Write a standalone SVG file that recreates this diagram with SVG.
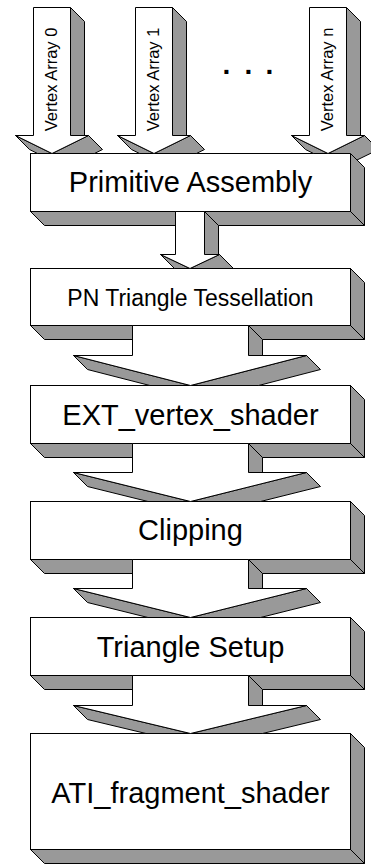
<svg xmlns="http://www.w3.org/2000/svg" width="371" height="865" viewBox="0 0 371 865">
<style>
.w{fill:#fff;stroke:#000;stroke-width:1;stroke-linejoin:miter}
.g{fill:#999;stroke:#000;stroke-width:1;stroke-linejoin:miter}
.t{font-family:"Liberation Sans",Arial,sans-serif;font-size:29px;text-anchor:middle;fill:#000}
.s{font-size:23px}
.v{font-family:"Liberation Sans",Arial,sans-serif;font-size:16.5px;text-anchor:middle;fill:#000}
</style>
<rect width="371" height="865" fill="#fff"/>
<g transform="translate(0.5,0.5)">
<g id="box1">
<polygon class="g" points="350,153 364,167 364,225 350,211"/>
<polygon class="g" points="30,211 44,225 364,225 350,211"/>
<rect class="w" x="30" y="153" width="320" height="58"/>
<text class="t" x="190" y="191">Primitive Assembly</text>
</g>
<g id="box2">
<polygon class="g" points="350,268 364,282 364,339 350,325"/>
<polygon class="g" points="30,325 44,339 364,339 350,325"/>
<rect class="w" x="30" y="268" width="320" height="57"/>
<text class="t s" x="190" y="305">PN Triangle Tessellation</text>
</g>
<g id="box3">
<polygon class="g" points="350,385 364,399 364,457 350,443"/>
<polygon class="g" points="30,443 44,457 364,457 350,443"/>
<rect class="w" x="30" y="385" width="320" height="58"/>
<text class="t" x="190" y="424">EXT_vertex_shader</text>
</g>
<g id="box4">
<polygon class="g" points="350,501 364,515 364,573 350,559"/>
<polygon class="g" points="30,559 44,573 364,573 350,559"/>
<rect class="w" x="30" y="501" width="320" height="58"/>
<text class="t" x="190" y="539">Clipping</text>
</g>
<g id="box5">
<polygon class="g" points="350,617 364,631 364,689 350,675"/>
<polygon class="g" points="30,675 44,689 364,689 350,675"/>
<rect class="w" x="30" y="617" width="320" height="58"/>
<text class="t" x="190" y="656">Triangle Setup</text>
</g>
<g id="box6">
<polygon class="g" points="350,733 364,747 364,863 350,849"/>
<polygon class="g" points="30,849 44,863 364,863 350,849"/>
<rect class="w" x="30" y="733" width="320" height="116"/>
<text class="t" x="190" y="802">ATI_fragment_shader</text>
</g>
<g id="connectors">
<g id="va0">
<polygon class="g" points="15,135 29,149 37.1,153 51.5,153"/>
<polygon class="g" points="88,135 102,149 93.9,153 51.5,153"/>
<polygon class="g" points="70,7 84,21 84,135 70,135"/>
<polygon class="w" points="33,7 33,135 15,135 51.5,153 88,135 70,135 70,7"/>
<text class="v" transform="translate(56.5,79) rotate(-90)">Vertex Array 0</text>
</g>
<g id="va1">
<polygon class="g" points="117,135 131,149 139.1,153 153.5,153"/>
<polygon class="g" points="190,135 204,149 195.9,153 153.5,153"/>
<polygon class="g" points="172,7 186,21 186,135 172,135"/>
<polygon class="w" points="135,7 135,135 117,135 153.5,153 190,135 172,135 172,7"/>
<text class="v" transform="translate(158.5,79) rotate(-90)">Vertex Array 1</text>
</g>
<g id="van">
<polygon class="g" points="291,135 305,149 313.1,153 327.5,153"/>
<polygon class="g" points="364,135 378,149 356.5,159.5 350,153 327.5,153"/>
<polygon class="g" points="346,7 360,21 360,135 346,135"/>
<polygon class="w" points="309,7 309,135 291,135 327.5,153 364,135 346,135 346,7"/>
<text class="v" transform="translate(332.5,79) rotate(-90)">Vertex Array n</text>
</g>
<g id="a1">
<polygon class="g" points="160,254 174,268 189.5,268"/>
<polygon class="g" points="219,254 233,268 189.5,268"/>
<polygon class="g" points="204,211 218,225 218,254 204,254"/>
<polygon class="w" points="175,211 175,254 160,254 189.5,268 219,254 204,254 204,211"/>
</g>
<g id="a2">
<polygon class="g" points="73,355 87,369 149.4,385 190,385"/>
<polygon class="g" points="306,355 320,369 258.1,385 190,385"/>
<polygon class="g" points="248,325 262,339 262,355 248,355"/>
<polygon class="w" points="132,325 132,355 73,355 190,385 306,355 248,355 248,325"/>
</g>
<g id="a3">
<polygon class="g" points="73,472 87,486 147.5,501 190,501"/>
<polygon class="g" points="306,472 320,486 260,501 190,501"/>
<polygon class="g" points="248,443 262,457 262,472 248,472"/>
<polygon class="w" points="132,443 132,472 73,472 190,501 306,472 248,472 248,443"/>
</g>
<g id="a4">
<polygon class="g" points="73,588 87,602 147.5,617 190,617"/>
<polygon class="g" points="306,588 320,602 260,617 190,617"/>
<polygon class="g" points="248,559 262,573 262,588 248,588"/>
<polygon class="w" points="132,559 132,588 73,588 190,617 306,588 248,588 248,559"/>
</g>
<g id="a5">
<polygon class="g" points="73,705 87,719 145.5,733 190,733"/>
<polygon class="g" points="306,705 320,719 262,733 190,733"/>
<polygon class="g" points="248,675 262,689 262,705 248,705"/>
<polygon class="w" points="132,675 132,705 73,705 190,733 306,705 248,705 248,675"/>
</g>
</g>
<text x="222 244 265" y="73" style="font-family:'Liberation Sans',Arial,sans-serif;font-size:28px;font-weight:bold;fill:#000">...</text>
</g>
</svg>
